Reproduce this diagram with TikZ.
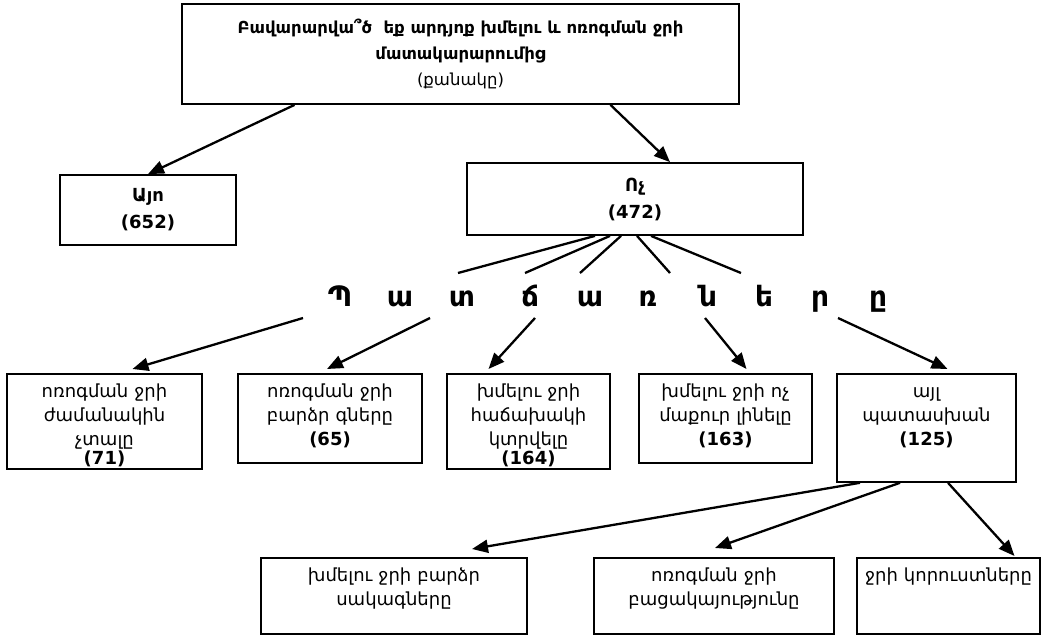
\documentclass[tikz,border=0pt]{standalone}
\usepackage{fontspec}
\setmainfont{DejaVu Sans}
\usetikzlibrary{arrows.meta,calc}
\newcommand{\topfont}{\fontsize{16.5}{26}\selectfont}
\newcommand{\ansfont}{\fontsize{18}{27}\selectfont\bfseries}
\newcommand{\boxfont}{\fontsize{18}{24}\selectfont}
\tikzset{
  every picture/.style={line width=1.8pt},
  qbox/.style={draw, align=center, inner sep=0pt},
  rbox/.style 2 args={qbox, anchor=north, text width=#1, minimum width=#1,
                      text height=24pt, text depth=#2, font=\boxfont},
  letter/.style={anchor=base, font=\fontsize{28}{28}\selectfont\bfseries},
  fan/.style={line width=2.3pt},
  arr/.style={-{Triangle[length=16pt,width=13pt]}, line width=2.3pt},
}

\begin{document}
\begin{tikzpicture}[x=1pt,y=-1pt]
\useasboundingbox (0,0) rectangle (1060,635);
% question and the two answers
\node[qbox, minimum width=557pt, minimum height=100pt, font=\topfont] (q) at (460.5,54)
  {\textbf{Բավարարվա՞ծ\ \ եք արդյոք խմելու և ոռոգման ջրի}\\
   \textbf{մատակարարումից}\\(քանակը)};
\node[qbox, minimum width=176pt, minimum height=70pt, font=\ansfont] (yes) at (148,210)
  {Այո\\(652)};
\node[qbox, minimum width=336pt, minimum height=72pt, font=\ansfont] (no) at (635,199)
  {Ոչ\\(472)};
\draw[arr] ($(q.south)+(-166,0)$) -- (yes.north);
\draw[arr] ($(q.south)+(150,0)$) -- ($(no.north)+(35,0)$);

% spaced heading
\foreach \ch/\xx [count=\i] in {Պ/340,ա/400,տ/462,ճ/530,ա/590,ռ/648,ն/708,ե/764,ր/820,ը/878}
  \node[letter] (h\i) at (\xx,306) {\ch};
\foreach \dx/\ex [count=\i] in {-40/458,-25/525,-14/580,2/670,16/741}{
  \coordinate (f\i) at (\ex,273);
  \draw[fan] ($(no.south)+(\dx,0)$) -- (f\i);
}

% reasons
\node[rbox={195pt}{71pt}] (r1) at (104.5,373) {ոռոգման ջրի\\ժամանակին\\չտալը\\[-5pt]\textbf{(71)}};
\node[rbox={184pt}{65pt}] (r2) at (330,373) {ոռոգման ջրի\\բարձր գները\\\textbf{(65)}};
\node[rbox={163pt}{71pt}] (r3) at (528.5,373) {խմելու ջրի\\հաճախակի\\կտրվելը\\[-5pt]\textbf{(164)}};
\node[rbox={173pt}{65pt}] (r4) at (725.5,373) {խմելու ջրի ոչ\\մաքուր լինելը\\\textbf{(163)}};
\node[rbox={179pt}{84pt}] (r5) at (926.5,373) {այլ\\պատասխան\\\textbf{(125)}};
\foreach \sx/\dx [count=\i] in {303/28,430/-3,535/-40,705/21,838/21}{
  \coordinate (s\i) at (\sx,318);
  \draw[arr] (s\i) -- ($(r\i.north)+(\dx,-4)$);
}

% other answers
\node[rbox={266pt}{52pt}] (o1) at (394,557) {խմելու ջրի բարձր\\սակագները};
\node[rbox={240pt}{52pt}] (o2) at (714,557) {ոռոգման ջրի\\բացակայությունը};
\node[rbox={183pt}{52pt}] (o3) at (948.5,557) {ջրի կորուստները};
\draw[arr] ($(r5.south)+(-66.5,0)$) -- ($(o1.north)+(78,-8)$);
\draw[arr] ($(r5.south)+(-26.5,0)$) -- ($(o2.north)+(1,-9)$);
\draw[arr] ($(r5.south)+(21.5,0)$) -- ($(o3.north)+(66,-1)$);
\end{tikzpicture}
\end{document}
